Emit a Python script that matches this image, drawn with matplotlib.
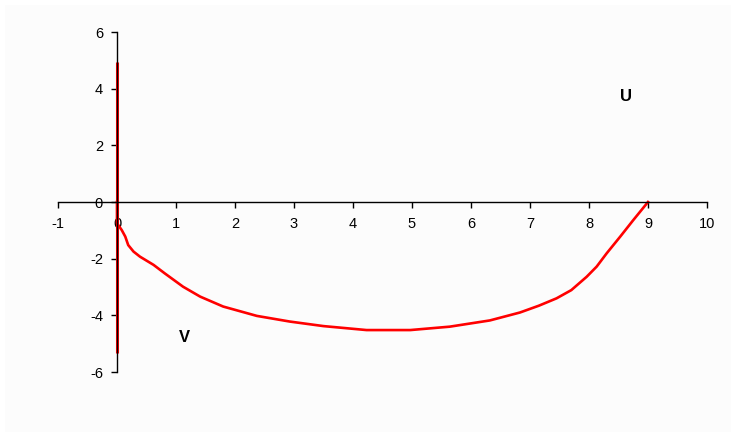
import matplotlib.pyplot as plt
from matplotlib.patches import Rectangle

plt.rcParams['font.family'] = ['Liberation Sans', 'DejaVu Sans']
plt.rcParams['axes.unicode_minus'] = False

# vertical branch on x = 0
vert_x = [0, 0]
vert_y = [-5.33, 4.95]

# curved branch
curve_x = [0.0, 0.0, 0.08, 0.14, 0.19, 0.28, 0.39, 0.62, 0.81, 1.12, 1.41, 1.80,
           2.37, 2.93, 3.50, 4.23, 4.97, 5.64, 6.32, 6.83, 7.15, 7.45, 7.70,
           7.96, 8.13, 8.30, 8.53, 8.75, 9.0]
curve_y = [0.0, -0.75, -0.99, -1.22, -1.52, -1.75, -1.93, -2.22, -2.52, -2.99, -3.34, -3.69,
           -4.02, -4.22, -4.38, -4.52, -4.52, -4.40, -4.18, -3.90, -3.66, -3.40, -3.11,
           -2.64, -2.28, -1.81, -1.22, -0.64, 0.0]

xticks = [-1, 0, 1, 2, 3, 4, 5, 6, 7, 8, 9, 10]
yticks = [-6, -4, -2, 0, 2, 4, 6]

fig = plt.figure(figsize=(7.36, 4.38), dpi=100, facecolor='white')
fig.patches.append(Rectangle((5 / 736, 6 / 438), 726 / 736, 427 / 438,
                             transform=fig.transFigure, facecolor='#fcfcfc',
                             edgecolor='none', zorder=-10))
ax = fig.add_axes([58 / 736, 66 / 438, 649 / 736, 340 / 438])
ax.set_zorder(5)
ax.patch.set_alpha(0)

ax.plot(vert_x, vert_y, color='#ff0000', lw=2.2, solid_capstyle='butt')
ax.plot(curve_x, curve_y, color='#ff0000', lw=1.9)

ax.text(8.63, 3.74, 'U', fontsize=12, fontweight='bold', ha='center', va='center')
ax.text(1.15, -4.8, 'V', fontsize=12, fontweight='bold', ha='center', va='center')

ax.set_xlim(-1, 10)
ax.set_ylim(-6, 6)
ax.set_xticks(xticks)
ax.set_yticks(yticks)

ax.spines['left'].set_position(('data', 0))
ax.spines['bottom'].set_position(('data', 0))
ax.spines['right'].set_visible(False)
ax.spines['top'].set_visible(False)
for s in ('left', 'bottom'):
    ax.spines[s].set_linewidth(1.0)
    ax.spines[s].set_color('black')

ax.tick_params(direction='out', length=4, width=1, labelsize=10.5, colors='black')
ax.tick_params(axis='x', pad=7)
ax.tick_params(axis='y', pad=6)

fig.savefig('out.png', dpi=100, facecolor='white')
